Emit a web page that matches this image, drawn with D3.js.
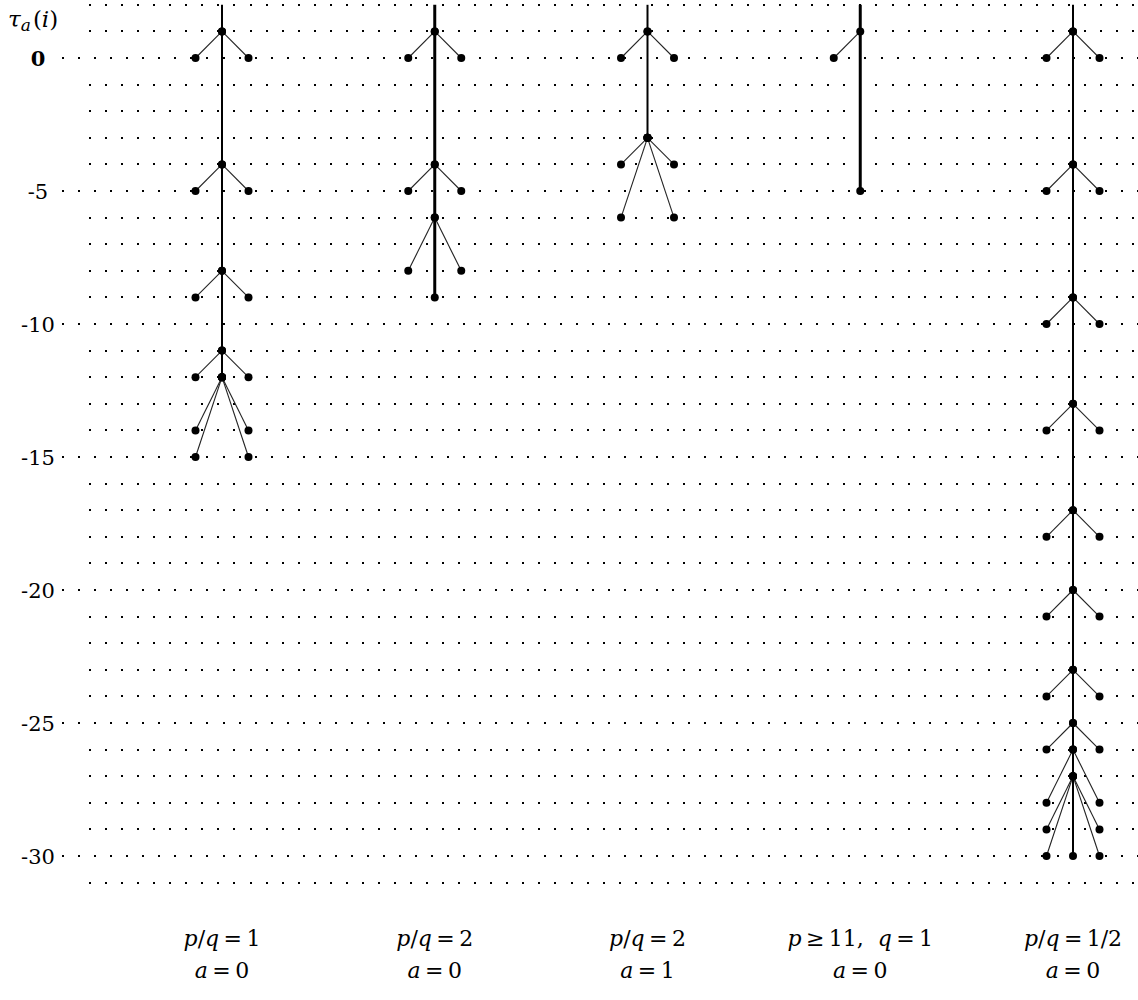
<!DOCTYPE html>
<html>
<head>
<meta charset="utf-8">
<script src="https://cdn.jsdelivr.net/npm/d3@7"></script>
<style>
  body { margin: 0; background: white; }
</style>
</head>
<body>
<div id="chart"></div>
<script>
// data: tree columns and their branches [parentLevel, childLevel, side]
const topLabels = ["p/q = 1", "p/q = 2", "p/q = 2", "p ≥ 11,  q = 1", "p/q = 1/2"];
const bottomLabels = ["a = 0", "a = 0", "a = 1", "a = 0", "a = 0"];
const trunkBottom = [-12, -9, -3, -5, -30];
const trunkWidth = [2, 3, 2, 3, 2];
const yTicks = [0, -5, -10, -15, -20, -25, -30];

const tree1Edges = [[1, 0, -1], [1, 0, 1], [-4, -5, -1], [-4, -5, 1], [-8, -9, -1], [-8, -9, 1],
  [-11, -12, -1], [-11, -12, 1], [-12, -14, -1], [-12, -14, 1], [-12, -15, -1], [-12, -15, 1]];
const tree2Edges = [[1, 0, -1], [1, 0, 1], [-4, -5, -1], [-4, -5, 1], [-6, -8, -1], [-6, -8, 1]];
const tree3Edges = [[1, 0, -1], [1, 0, 1], [-3, -4, -1], [-3, -4, 1], [-3, -6, -1], [-3, -6, 1]];
const tree4Edges = [[1, 0, -1]];
const tree5Edges = [[1, 0, -1], [1, 0, 1], [-4, -5, -1], [-4, -5, 1], [-9, -10, -1], [-9, -10, 1],
  [-13, -14, -1], [-13, -14, 1], [-17, -18, -1], [-17, -18, 1], [-20, -21, -1], [-20, -21, 1],
  [-23, -24, -1], [-23, -24, 1], [-25, -26, -1], [-25, -26, 1], [-26, -28, -1], [-26, -28, 1],
  [-27, -29, -1], [-27, -29, 1], [-27, -30, -1], [-27, -30, 1]];
const allEdges = [tree1Edges, tree2Edges, tree3Edges, tree4Edges, tree5Edges];

const width = 1138, height = 1000;
const gridTop = 2, gridBottom = -31;
const branch = 26.5;
const serif = "'DejaVu Serif', 'Liberation Serif', serif";

const svg = d3.select("#chart").append("svg")
  .attr("width", width).attr("height", height);

const y = d3.scaleLinear().domain([0, -30]).range([58, 856]);
const x = d3.scalePoint().domain(d3.range(topLabels.length)).range([222, 1073]);

// dotted grid rows
const rows = d3.range(gridTop, gridBottom - 1, -1);
svg.append("g").selectAll("line").data(rows).join("line")
  .attr("x1", d => d % 5 === 0 ? 62 : 89)
  .attr("x2", width)
  .attr("y1", d => Math.round(y(d))).attr("y2", d => Math.round(y(d)))
  .attr("stroke", "black")
  .attr("stroke-width", 2)
  .attr("shape-rendering", "crispEdges")
  .attr("stroke-dasharray", "2,14.05");

// y labels
svg.append("g").selectAll("text").data(yTicks).join("text")
  .attr("x", 38).attr("y", d => y(d))
  .attr("dy", "0.36em")
  .attr("text-anchor", "middle")
  .attr("font-family", serif)
  .attr("font-size", 21)
  .attr("font-weight", d => d === 0 ? "bold" : "normal")
  .text(d => d);

const title = svg.append("text").attr("x", 8).attr("y", 27)
  .attr("font-family", serif).attr("font-size", 23);
title.append("tspan").attr("font-style", "italic").text("τ");
title.append("tspan").attr("font-style", "italic").attr("font-size", 17).attr("dy", 4).text("a");
title.append("tspan").attr("dy", -4).attr("dx", 2).text("(");
title.append("tspan").attr("font-style", "italic").text("i");
title.append("tspan").text(")");

// trees
allEdges.forEach((edges, i) => {
  const g = svg.append("g");
  const cx = x(i);
  g.append("line")
    .attr("x1", cx).attr("x2", cx)
    .attr("y1", y(gridTop)).attr("y2", y(trunkBottom[i]))
    .attr("stroke", "black").attr("stroke-width", trunkWidth[i]);

  g.selectAll(".edge").data(edges).join("line")
    .attr("class", "edge")
    .attr("x1", cx).attr("y1", d => y(d[0]))
    .attr("x2", d => cx + d[2] * branch).attr("y2", d => y(d[1]))
    .attr("stroke", "#222").attr("stroke-width", 1.1);

  const nodes = [];
  edges.forEach(d => {
    nodes.push([cx, d[0]]);
    nodes.push([cx + d[2] * branch, d[1]]);
  });
  nodes.push([cx, trunkBottom[i]]);
  g.selectAll("circle").data(nodes).join("circle")
    .attr("cx", d => d[0]).attr("cy", d => y(d[1]))
    .attr("r", 4).attr("fill", "black");
});

// column labels
function mathLabel(sel, str) {
  // italic letters, upright digits and symbols
  const parts = str.split(/([a-z])/).filter(s => s.length);
  parts.forEach(p => {
    sel.append("tspan")
      .attr("font-style", /^[a-z]$/.test(p) ? "italic" : "normal")
      .text(p.replace(/ = /g, "\u2009=\u2009").replace(/ ≥ /g, "\u2009≥\u2009"));
  });
}
topLabels.forEach((t, i) => {
  const tx = svg.append("text").attr("x", x(i)).attr("y", 946)
    .attr("text-anchor", "middle").attr("font-size", 22)
    .attr("font-family", serif)
    .attr("xml:space", "preserve");
  mathLabel(tx, t);
  const bx = svg.append("text").attr("x", x(i)).attr("y", 978)
    .attr("text-anchor", "middle").attr("font-size", 22)
    .attr("font-family", serif)
    .attr("xml:space", "preserve");
  mathLabel(bx, bottomLabels[i]);
});
</script>
</body>
</html>
